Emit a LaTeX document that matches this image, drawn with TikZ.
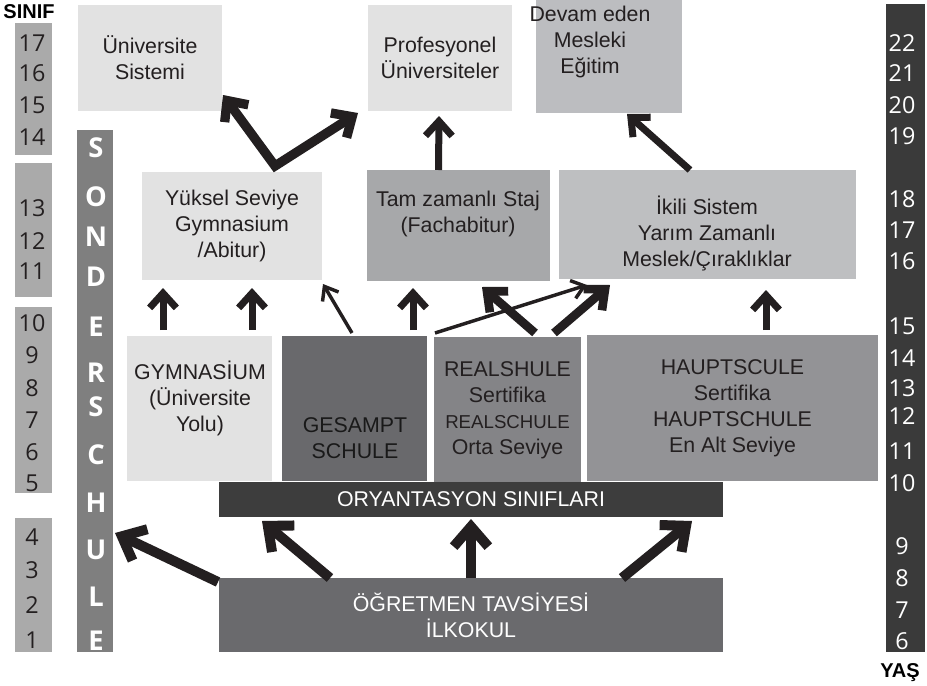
\documentclass[tikz,border=0pt]{standalone}
\usepackage{fontspec}
\setmainfont{Liberation Sans}
\newfontfamily\numfont{Open Sans}
\usetikzlibrary{arrows.meta,calc}

\definecolor{lightbox}{HTML}{E2E2E2}
\definecolor{devamgray}{HTML}{BCBDC0}
\definecolor{tamgray}{HTML}{A7A8AA}
\definecolor{ikiligray}{HTML}{BEBFC1}
\definecolor{gesamtgray}{HTML}{69696C}
\definecolor{realgray}{HTML}{848487}
\definecolor{hauptgray}{HTML}{939396}
\definecolor{orygray}{HTML}{3D3D3D}
\definecolor{ogretgray}{HTML}{6A6A6D}
\definecolor{gradegray}{HTML}{AAAAAA}
\definecolor{sondergray}{HTML}{7F7F7F}
\definecolor{agegray}{HTML}{3A3A3A}
\definecolor{textdark}{HTML}{231F20}

\newcommand{\boxfont}{\fontsize{16}{19.5}\selectfont}

\tikzset{every picture/.style={line width=0.75pt}}
\tikzset{
  bar/.style={rectangle, inner sep=0pt, outer sep=0pt},
  box/.style={rectangle, inner sep=0pt, outer sep=0pt, align=center, text=textdark, font=\boxfont},
  boxtxt/.style={inner sep=0pt, align=center, text=textdark, font=\boxfont},
  grade/.style={inner sep=0pt, text=textdark, font=\numfont\fontsize{17.5}{20}\selectfont},
  age/.style={grade, text=white},
  sonletter/.style={inner sep=0pt, text=white, font=\numfont\bfseries\fontsize{20.5}{22}\selectfont},
  colhead/.style={inner sep=0pt, text=black, font=\bfseries\fontsize{15}{17}\selectfont},
  bigarr/.style={draw=textdark, line width=7.5pt, -{Straight Barb[length=15pt,width=26pt,sharp]}},
  varr/.style={draw=textdark, line width=7pt, line join=miter, {Straight Barb[length=12pt,width=22pt,sharp]}-{Straight Barb[length=12pt,width=22pt,sharp]}},
  midarr/.style={draw=textdark, line width=5.25pt, -{Straight Barb[length=11pt,width=20pt,sharp]}},
  diagarr/.style={draw=textdark, line width=6.5pt, -{Straight Barb[length=12pt,width=21pt,sharp]}},
  thinarr/.style={draw=textdark, line width=2.6pt, -{Straight Barb[length=9pt,width=14pt,sharp]}}
}

\begin{document}
\begin{tikzpicture}[x=0.75pt,y=0.75pt,yscale=-1,xscale=1]
\useasboundingbox (0,0) rectangle (927,685);

% SINIF column
\node[colhead] (sinif) at (29,12) {SINIF};
\node[bar, fill=gradegray, minimum width=27.75pt, minimum height=99pt] (gbar1) at (33.5,89) {};
\node[bar, fill=gradegray, minimum width=27.75pt, minimum height=100.5pt] (gbar2) at (33.5,230) {};
\node[bar, fill=gradegray, minimum width=27.75pt, minimum height=139.5pt] (gbar3) at (33.5,400) {};
\node[bar, fill=gradegray, minimum width=27.75pt, minimum height=100.5pt] (gbar4) at (33.5,585) {};
\foreach \g/\y in {17/43,16/73,15/105,14/137,13/208,12/241,11/271,10/323,9/355,8/388,7/420,6/452,5/483,4/537,3/570,2/605,1/640}
  \node[grade] (g\g) at (32,\y) {\g};

% YAS column
\node[bar, fill=agegray, minimum width=29.25pt, minimum height=486pt] (yasbar) at (905.5,328) {};
\foreach \a/\y in {22/43,21/73,20/105,19/136,18/199,17/230,16/261,15/326,14/358,13/388,12/416,11/451,10/483,9/546,8/578,7/610,6/641}
  \node[age] (a\a) at (902,\y) {\a};
\node[colhead] (yas) at (900,673) {YAŞ};

% SONDERSCHULE
\node[bar, fill=sondergray, minimum width=27pt, minimum height=391.5pt] (sonder) at (95,391) {};
\foreach \ch/\y [count=\i] in {S/148,O/197,N/237,D/277,E/327,R/373,S/407,C/455,H/503,U/550,L/597,E/641}
  \node[sonletter] (s\i) at (96,\y) {\ch};

% top row
\node[box, fill=lightbox, minimum width=108pt, minimum height=79.5pt] (uni) at (150,58) {Üniversite\\Sistemi};
\node[box, fill=lightbox, minimum width=108pt, minimum height=79.5pt] (prof) at (440,58) {Profesyonel\\Üniversiteler};
\node[box, fill=devamgray, minimum width=109.5pt, minimum height=84.75pt] (devam) at (609,56.5) {};
\node[boxtxt] (devamtxt) at (590,42) {Devam eden\\Mesleki\\Eğitim};

% middle row
\node[box, fill=lightbox, minimum width=135pt, minimum height=81pt] (yuksel) at (232,226) {Yüksel Seviye\\Gymnasium\\/Abitur)};
\node[box, fill=tamgray, minimum width=137.25pt, minimum height=83.25pt] (tam) at (458.5,225.5) {};
\node[boxtxt] (tamtxt) at (458,214) {Tam zamanlı Staj\\(Fachabitur)};
\node[box, fill=ikiligray, minimum width=222.75pt, minimum height=81.75pt] (ikili) at (707.5,224.5) {};
\node[boxtxt] (ikilitxt) at (707,234) {İkili Sistem\\Yarım Zamanlı\\Meslek/Çıraklıklar};

% school row
\node[box, fill=lightbox, minimum width=108.75pt, minimum height=108.75pt] (gymn) at (199.5,408.5) {};
\node[boxtxt] (gymntxt) at (200,398) {GYMNASİUM\\(Üniversite\\Yolu)};
\node[box, fill=gesamtgray, minimum width=108.75pt, minimum height=108.75pt] (gesamt) at (354.5,408.5) {};
\node[boxtxt, text=black!90] (gesamttxt) at (355,438) {GESAMPT\\SCHULE};
\node[box, fill=realgray, minimum width=110.25pt, minimum height=109.5pt] (real) at (507.5,410) {REALSHULE\\Sertifika\\{\fontsize{14}{19.5}\selectfont REALSCHULE}\\Orta Seviye};
\node[box, fill=hauptgray, minimum width=218.25pt, minimum height=109.5pt] (haupt) at (732.5,408) {HAUPTSCULE\\Sertifika\\HAUPTSCHULE\\En Alt Seviye};

% orientation and primary
\node[box, fill=orygray, text=white, minimum width=378pt, minimum height=26.25pt] (ory) at (471,499.5) {ORYANTASYON SINIFLARI};
\node[box, fill=ogretgray, text=white, minimum width=378pt, minimum height=55.5pt] (ogret) at (471,615) {ÖĞRETMEN TAVSİYESİ\\İLKOKUL};

% arrows from primary
\draw[bigarr] ($(ogret.north west)+(-1,4)$) -- ($(sonder.east)+(2,142)$);
\draw[bigarr] ($(ogret.north west)+(111,0)$) -- ($(ory.south west)+(43,4)$);
\draw[bigarr] (ogret.north) -- ($(ory.south)+(0,2)$);
\draw[bigarr] ($(ogret.north east)+(-101,0)$) -- ($(ory.south east)+(-31,4)$);

% arrows from schools
\draw[midarr] ($(gymn.north west)+(36,-6)$) -- ($(yuksel.south west)+(21,8)$);
\draw[midarr] ($(gymn.north west)+(125,-6)$) -- ($(yuksel.south west)+(110,8)$);
\draw[thinarr] ($(gesamt.north west)+(70,-3)$) -- ($(yuksel.south east)+(1,4)$);
\draw[midarr] ($(gesamt.north west)+(131,-6)$) -- ($(tam.south west)+(46,7)$);
\draw[thinarr] ($(real.north west)+(1,-4)$) -- ($(ikili.south west)+(28,6)$);
\draw[diagarr] ($(real.north west)+(101,-4)$) -- ($(tam.south east)+(-68,6)$);
\draw[diagarr] ($(real.north west)+(120,-4)$) -- ($(ikili.south west)+(51,6)$);
\draw[midarr] ($(haupt.north west)+(179,-5)$) -- ($(ikili.south west)+(207,11)$);

% arrows to top row
\draw[varr] ($(uni.south east)+(1,-16)$) -- ($(yuksel.north)+(43,-6)$) -- ($(prof.south west)+(-10,2)$);
\draw[midarr] ($(tam.north)+(-20,0)$) -- ($(prof.south)+(-1,5)$);
\draw[midarr] ($(ikili.north west)+(131,0)$) -- ($(devam.south)+(18,1)$);

\end{tikzpicture}
\end{document}
